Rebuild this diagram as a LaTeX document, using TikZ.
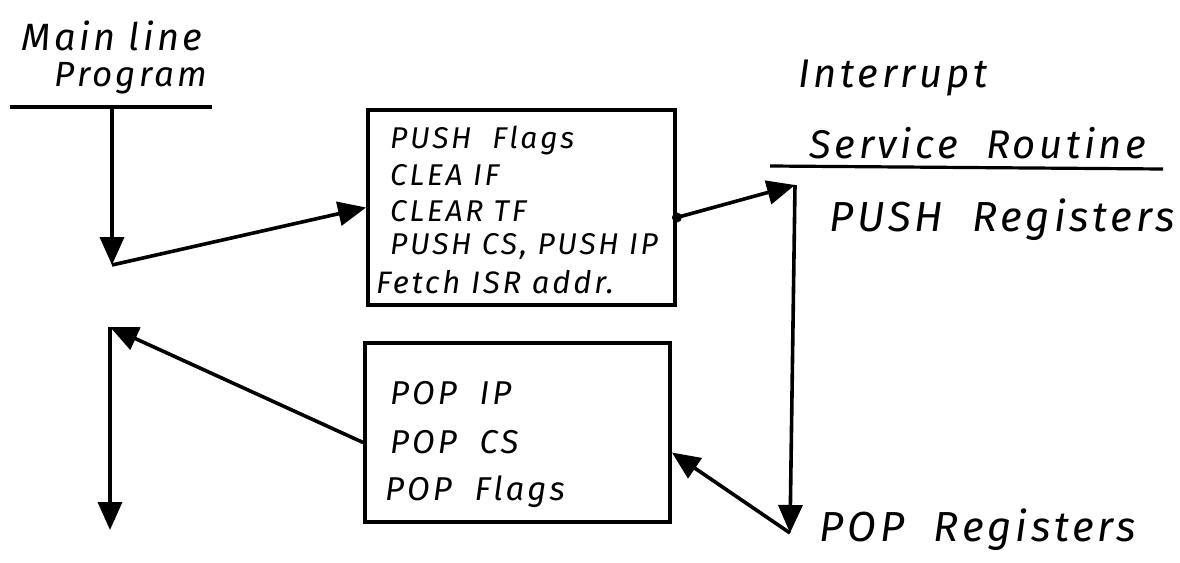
\documentclass[tikz,border=0pt]{standalone}
\usepackage{fontspec}
\setmainfont{Fira Sans}
\usetikzlibrary{arrows.meta}
\tikzset{
  hand/.style={inner sep=0pt, font=\itshape\fontsize{#1}{#1}\selectfont\addfontfeature{LetterSpace=9}},
  hand/.default=30,
  flow/.style={line width=3.6pt, -{Triangle[length=28pt,width=24pt]}},
  plain/.style={line width=3.2pt},
  boxn/.style={draw, line width=3.8pt, inner sep=0pt},
}
\begin{document}
\begin{tikzpicture}[x=1pt,y=-1pt]
\useasboundingbox (0,0) rectangle (1180,562);
% left column
\node[hand=38] (mainA) at (112,36) {Main line};
\node[hand=35] (mainB) at (131,78) {Program};
\coordinate (hlL) at (10,107);
\coordinate (hlR) at (212,107);
\draw[plain] (hlL) -- (hlR);
\coordinate (mtop) at (112,107);
\coordinate (m1) at (112,265);
\coordinate (m2top) at (110,327);
\coordinate (m2bot) at (110,530);
% boxes
\node[boxn, minimum width=307pt, minimum height=195pt] (box1) at (521.5,207.5) {};
\node[boxn, minimum width=305pt, minimum height=179pt] (box2) at (517.5,432.5) {};
\node[hand=30, anchor=west] (b1a) at (390,140) {PUSH~~Flags};
\node[hand=30, anchor=west] (b1b) at (390,175) {CLEA IF};
\node[hand=30, anchor=west] (b1c) at (390,211) {CLEAR TF};
\node[hand=30, anchor=west] (b1d) at (390,246) {PUSH CS, PUSH IP};
\node[hand=31, anchor=west] (b1e) at (376,282) {Fetch ISR addr.};
\node[hand=33, anchor=west] (b2a) at (390,393) {POP~~IP};
\node[hand=33, anchor=west] (b2b) at (390,442) {POP~~CS};
\node[hand=33, anchor=west] (b2c) at (385,492) {POP~~Flags};
% ISR
\node[hand=40] (intA) at (893,78) {Interrupt};
\node[hand=40] (intB) at (978,143) {Service~~Routine};
\coordinate (ulL) at (770,166);
\coordinate (ulR) at (1163,169);
\draw[plain] (ulL) -- (ulR);
\node[hand=42] (pushR) at (1002,220) {PUSH~~Registers};
\node[hand=42] (popR) at (978,530) {POP~~Registers};
\coordinate (isrTop) at (795,185);
\coordinate (isrBot) at (790,533);
% connectors
\draw[flow] (mtop) -- (m1);
\draw[flow] (m1) -- (box1.west);
\fill ([yshift=-10pt]box1.east) circle (5pt);
\draw[flow] ([yshift=-10pt]box1.east) -- (isrTop);
\draw[flow] (isrTop) -- (isrBot);
\draw[flow] (isrBot) -- ([yshift=-20pt]box2.east);
\draw[flow] ([yshift=-10pt]box2.west) -- (m2top);
\draw[flow] (m2top) -- (m2bot);
\end{tikzpicture}
\end{document}
